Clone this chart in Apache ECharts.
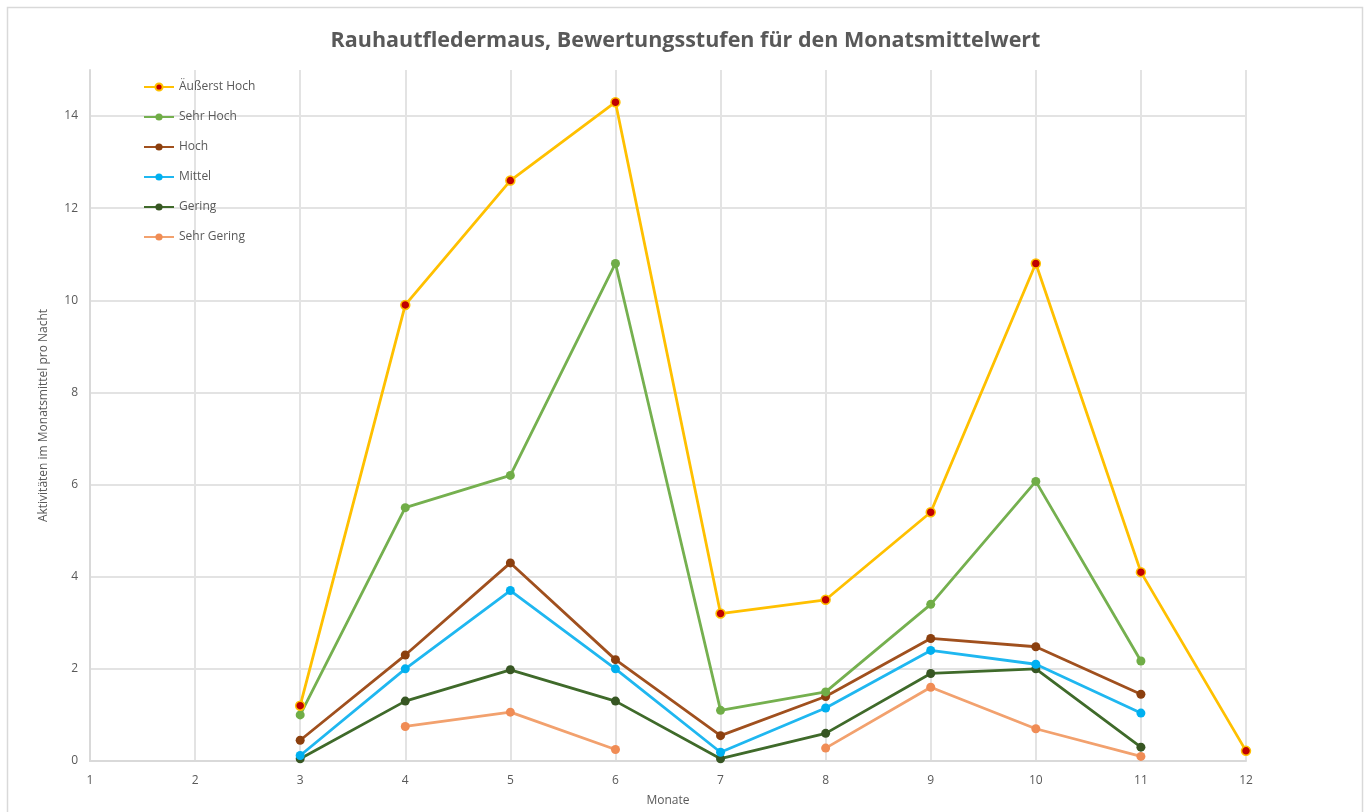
<!DOCTYPE html>
<html>
<head>
<meta charset="utf-8">
<script src="https://cdn.jsdelivr.net/npm/echarts@6/dist/echarts.min.js"></script>
<style>
html,body{margin:0;padding:0;background:#fff;}
#chart{width:1371px;height:812px;}
</style>
</head>
<body>
<div id="chart"></div>
<script>
const months = [1,2,3,4,5,6,7,8,9,10,11,12];
const seriesNames = ['Äußerst Hoch','Sehr Hoch','Hoch','Mittel','Gering','Sehr Gering'];
const aeusserstHoch = [null,null,1.2,9.9,12.6,14.3,3.2,3.5,5.4,10.8,4.1,0.22];
const sehrHoch      = [null,null,1.0,5.5,6.2,10.8,1.1,1.5,3.4,6.07,2.17,null];
const hoch          = [null,null,0.45,2.3,4.3,2.2,0.55,1.4,2.66,2.48,1.45,null];
const mittel        = [null,null,0.12,2.0,3.7,2.0,0.19,1.15,2.4,2.1,1.04,null];
const gering        = [null,null,0.05,1.3,1.98,1.3,0.05,0.6,1.9,2.0,0.3,null];
const sehrGering    = [null,null,null,0.75,1.06,0.25,null,0.28,1.6,0.7,0.1,null];
const yTicks = [0,2,4,6,8,10,12,14];

const lineColors = ['#FFC000','#75B04F','#A0501E','#1FB7F0','#3F6A2A','#F2A16E'];
const dotColors  = ['#C00000','#70AD47','#8B3F0E','#00B0F0','#375623','#F08C55'];
const valuesList = [aeusserstHoch,sehrHoch,hoch,mittel,gering,sehrGering];

const chart = echarts.init(document.getElementById('chart'));
const series = seriesNames.map((name,k)=>({
  name: name,
  type: 'line',
  data: months.map((m,i)=>[m, valuesList[k][i]==null ? '-' : valuesList[k][i]]),
  symbol: 'circle',
  symbolSize: 9,
  connectNulls: false,
  lineStyle: {color: lineColors[k], width: 2.8},
  itemStyle: {color: dotColors[k], borderColor: k===0 ? '#FFC000' : dotColors[k], borderWidth: k===0 ? 1.5 : 0},
  z: 10 - k
}));

chart.setOption({
  backgroundColor: '#fff',
  animation: false,
  graphic: [{type:'rect', shape:{x:7.5,y:7.5,width:1355,height:820}, style:{fill:'none', stroke:'#d9d9d9', lineWidth:1.5}, silent:true}],
  title: {
    text: 'Rauhautfledermaus, Bewertungsstufen für den Monatsmittelwert',
    left: 'center', top: 25,
    textStyle: {fontFamily: 'Open Sans', fontSize: 21.5, fontWeight: 'bold', color: '#595959'}
  },
  legend: {
    orient: 'vertical', left: 138, top: 76, itemGap: 18, itemWidth: 30, itemHeight: 9,
    data: seriesNames,
    textStyle: {fontFamily: 'Open Sans', fontSize: 12, color: '#595959'}
  },
  grid: {left: 90, right: 125, top: 70, bottom: 33, containLabel: false},
  xAxis: {
    type: 'value', min: 1, max: 12, interval: 1,
    name: 'Monate', nameLocation: 'middle', nameGap: 34,
    nameTextStyle: {fontFamily: 'Open Sans', fontSize: 12, color: '#595959'},
    axisLine: {show: true, lineStyle: {color: '#d9d9d9', width: 2}},
    axisTick: {show: false},
    axisLabel: {fontFamily: 'Open Sans', fontSize: 12, color: '#595959', margin: 14},
    splitLine: {show: true, lineStyle: {color: '#e3e3e3', width: 2}}
  },
  yAxis: {
    type: 'value', min: 0, max: 15, interval: 2,
    name: 'Aktivitäten im Monatsmittel pro Nacht', nameLocation: 'middle', nameGap: 40,
    nameTextStyle: {fontFamily: 'Open Sans', fontSize: 12, color: '#595959'},
    axisLine: {show: true, lineStyle: {color: '#d9d9d9', width: 2}},
    axisTick: {show: false},
    axisLabel: {fontFamily: 'Open Sans', fontSize: 12, color: '#595959', margin: 12, showMaxLabel: false,
      formatter: v => yTicks.includes(v) ? String(v) : ''},
    splitLine: {show: true, showMaxLine: false, lineStyle: {color: '#e3e3e3', width: 2}}
  },
  series: series
});
</script>
</body>
</html>
